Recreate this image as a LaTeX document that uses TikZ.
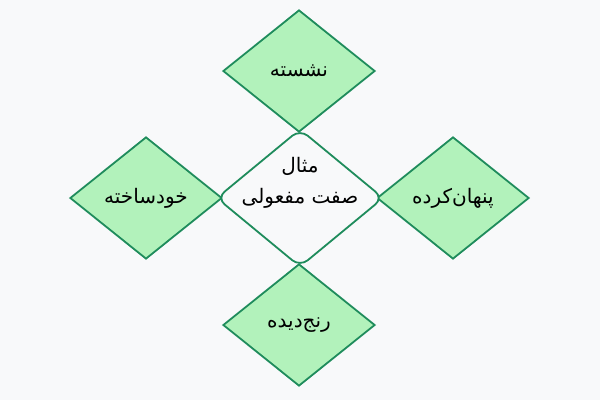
\documentclass[tikz,border=0pt]{standalone}
\usepackage{fontspec}
\usetikzlibrary{shapes.geometric}
\newfontfamily\arabicfont[Script=Arabic]{DejaVu Sans}
\TeXXeTstate=1
\definecolor{bgc}{HTML}{F8F9FA}
\definecolor{gfill}{HTML}{B2F2BB}
\definecolor{gline}{HTML}{1F8C5C}
\tikzset{
  leaf/.style={diamond, draw=gline, fill=gfill, line width=1.8pt, inner sep=0pt,
    minimum width=152pt, minimum height=122pt, font=\arabicfont\fontsize{20}{24}\selectfont, text=black},
  hub/.style={diamond, draw=gline, fill=bgc, line width=1.8pt, inner sep=0pt, rounded corners=10pt,
    minimum width=167pt, minimum height=138pt},
  hubtext/.style={align=center, inner sep=0pt, font=\arabicfont\fontsize{20}{31}\selectfont, text=black}
}
\begin{document}
\begin{tikzpicture}[x=1pt,y=-1pt]
\fill[bgc] (0,0) rectangle (600,400);
\useasboundingbox (0,0) rectangle (600,400);
\node[leaf] (top) at (299,71) {\beginR نشسته\endR};
\node[leaf] (left) at (146,198) {\beginR خودساخته\endR};
\node[leaf] (right) at (453,198) {\beginR پنهان‌کرده\endR};
\node[leaf] (bottom) at (299,325) {\beginR رنج‌دیده\endR};
\node[hub] (center) at (300,198) {};
\node[hubtext] (centertext) at (300,183) {\beginR مثال\endR\\\beginR صفت مفعولی\endR};
\end{tikzpicture}
\end{document}
